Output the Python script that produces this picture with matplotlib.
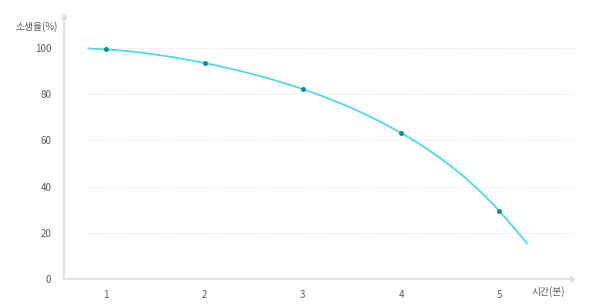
import matplotlib
matplotlib.use('Agg')
import matplotlib.pyplot as plt
import numpy as np

plt.rcParams['font.family'] = ['Noto Sans CJK KR', 'DejaVu Sans']

# data
minutes = [1, 2, 3, 4, 5]
survival = [99.4, 93.5, 82.2, 63.2, 29.4]
# where the curve starts and ends
curve_start = (0.82, 99.8)
curve_end = (5.28, 15.5)
y_ticks = [0, 20, 40, 60, 80, 100]

line_col = '#4fd9ea'
dot_col = '#0b8f9b'
axis_col = '#dedede'
text_col = '#5a5a5a'


def natural_spline(x, y, xn):
    # plain natural cubic spline, so the line goes through every point
    x = np.asarray(x, float)
    y = np.asarray(y, float)
    n = len(x)
    h = np.diff(x)
    A = np.zeros((n, n))
    b = np.zeros(n)
    A[0, 0] = A[-1, -1] = 1
    for i in range(1, n - 1):
        A[i, i-1] = h[i-1]
        A[i, i] = 2 * (h[i-1] + h[i])
        A[i, i+1] = h[i]
        b[i] = 3 * ((y[i+1]-y[i])/h[i] - (y[i]-y[i-1])/h[i-1])
    c = np.linalg.solve(A, b)
    out = np.empty_like(xn)
    for k, xv in enumerate(xn):
        i = min(max(np.searchsorted(x, xv) - 1, 0), n - 2)
        d = xv - x[i]
        bb = (y[i+1]-y[i])/h[i] - h[i]*(2*c[i] + c[i+1])/3
        dd = (c[i+1] - c[i]) / (3*h[i])
        out[k] = y[i] + bb*d + c[i]*d**2 + dd*d**3
    return out


fig = plt.figure(figsize=(6.0, 3.08), dpi=100, facecolor='white')
ax = fig.add_axes([64/600., 1-279/308., 510/600., 264/308.])

xmin, xmax = 0.57, 5.76
ymax = 114.3
ax.set_xlim(xmin, xmax)
ax.set_ylim(0, ymax)

xs = [curve_start[0]] + minutes + [curve_end[0]]
ys = [curve_start[1]] + survival + [curve_end[1]]
xx = np.linspace(curve_start[0], curve_end[0], 300)
ax.plot(xx, natural_spline(xs, ys, xx), color=line_col, lw=1.3, zorder=3)
ax.scatter(minutes, survival, s=13, color=dot_col, zorder=4, lw=0)

# grid
for v in y_ticks[1:]:
    ax.plot([0.81, xmax], [v, v], color='#dddddd', lw=0.6,
            ls=(0, (1, 1.5)), zorder=1)

for s in ['top', 'right']:
    ax.spines[s].set_visible(False)
for s in ['left', 'bottom']:
    ax.spines[s].set_color(axis_col)
    ax.spines[s].set_linewidth(1.2)

# arrows on axes
ax.plot([xmin], [ymax], marker=6, color=axis_col, ms=4, clip_on=False)
ax.plot([xmax], [0], marker=5, color=axis_col, ms=4, clip_on=False)

ax.set_xticks(minutes)
ax.set_yticks(y_ticks)
ax.tick_params(length=0, colors=text_col, labelsize=7)
ax.tick_params(axis='x', pad=8)
ax.tick_params(axis='y', pad=9)

fig.text(37/600., 1-27/308., '소생율(%)', fontsize=7, color=text_col,
         ha='center', va='center')
fig.text(548/600., 1-292/308., '시간(분)', fontsize=7, color=text_col,
         ha='center', va='center')

fig.savefig('out.png', dpi=100, facecolor='white')
